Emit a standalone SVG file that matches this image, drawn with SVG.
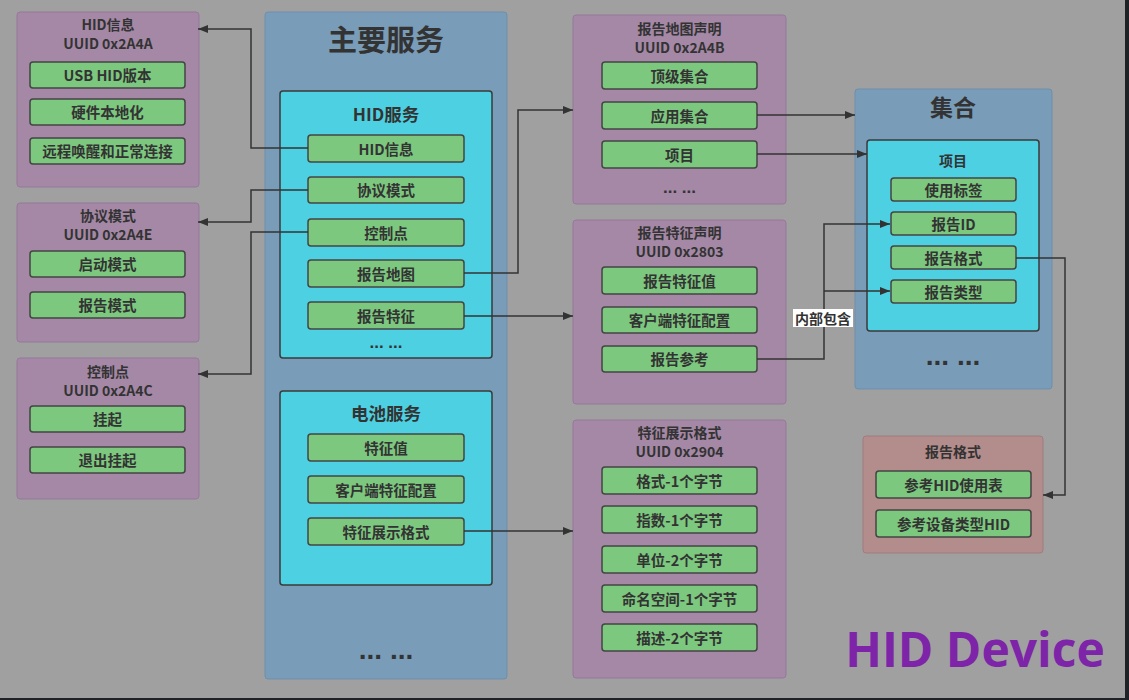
<svg xmlns="http://www.w3.org/2000/svg" width="1129" height="700" viewBox="0 0 1129 700">
<defs>
<marker id="arr" viewBox="0 0 10 8" refX="10" refY="4" markerWidth="10" markerHeight="8" markerUnits="userSpaceOnUse" orient="auto">
<path d="M0,0 L10,4 L0,8 z" fill="#333"/>
</marker>
<style>
text{font-family:"Noto Sans CJK SC","Noto Sans",sans-serif;font-weight:bold;fill:#333;text-anchor:middle;dominant-baseline:central}
.pur{fill:#a488a6;stroke:#95799a;stroke-width:1}
.blu{fill:#799cb8;stroke:#6e8fab;stroke-width:1}
.cy{fill:#4dd0e1;stroke:#3a3a3a;stroke-width:1.5}
.gr{fill:#7dc87f;stroke:#444;stroke-width:1.5}
.pk{fill:#b38c8c;stroke:#a07c7c;stroke-width:1}
.t{font-size:14.5px}
.h{font-size:14px}
.dots{font-family:"Liberation Sans",sans-serif;font-size:17px}
.bdots{font-family:"Liberation Sans",sans-serif;font-size:28px}
.ln{fill:none;stroke:#333;stroke-width:1.5;marker-end:url(#arr)}
</style>
</defs>
<rect x="0" y="0" width="1129" height="700" fill="#1e2226"/>
<rect x="0" y="0" width="1125" height="698" fill="#a0a0a0"/>

<g id="hid-info">
<rect class="pur" x="17" y="12" width="182" height="175" rx="3"/>
<text class="h" x="108" y="24">HID信息</text>
<text class="h" x="108" y="43">UUID 0x2A4A</text>
<rect class="gr" x="30" y="62" width="155" height="26" rx="3"/><text class="t" x="107.5" y="74.5">USB HID版本</text>
<rect class="gr" x="30" y="99" width="155" height="26" rx="3"/><text class="t" x="107.5" y="111.5">硬件本地化</text>
<rect class="gr" x="30" y="138" width="155" height="26" rx="3"/><text class="t" x="107.5" y="150.5">远程唤醒和正常连接</text>
</g>

<g id="protocol-mode">
<rect class="pur" x="17" y="203" width="182" height="139" rx="3"/>
<text class="h" x="108" y="215">协议模式</text>
<text class="h" x="108" y="234">UUID 0x2A4E</text>
<rect class="gr" x="30" y="251" width="155" height="26" rx="3"/><text class="t" x="107.5" y="263.5">启动模式</text>
<rect class="gr" x="30" y="292" width="155" height="26" rx="3"/><text class="t" x="107.5" y="304.5">报告模式</text>
</g>

<g id="control-point">
<rect class="pur" x="17" y="358" width="182" height="141" rx="3"/>
<text class="h" x="108" y="371">控制点</text>
<text class="h" x="108" y="390">UUID 0x2A4C</text>
<rect class="gr" x="30" y="406" width="155" height="26" rx="3"/><text class="t" x="107.5" y="418.5">挂起</text>
<rect class="gr" x="30" y="447" width="155" height="26" rx="3"/><text class="t" x="107.5" y="459.5">退出挂起</text>
</g>

<g id="main-services">
<rect class="blu" x="265" y="12" width="242" height="667" rx="3"/>
<text x="386" y="38" style="font-size:29px">主要服务</text>
<text class="bdots" x="386" y="649">... ...</text>
</g>

<g id="hid-service">
<rect class="cy" x="280" y="91" width="212" height="267" rx="3"/>
<text x="386" y="113" style="font-size:17.5px">HID服务</text>
<rect class="gr" x="308" y="135" width="156" height="27" rx="3"/><text class="t" x="386" y="148">HID信息</text>
<rect class="gr" x="308" y="177" width="156" height="26" rx="3"/><text class="t" x="386" y="189.5">协议模式</text>
<rect class="gr" x="308" y="219" width="156" height="27" rx="3"/><text class="t" x="386" y="232">控制点</text>
<rect class="gr" x="308" y="260" width="156" height="27" rx="3"/><text class="t" x="386" y="273">报告地图</text>
<rect class="gr" x="308" y="302" width="156" height="27" rx="3"/><text class="t" x="386" y="315">报告特征</text>
<text class="dots" x="386" y="342">... ...</text>
</g>

<g id="battery-service">
<rect class="cy" x="280" y="391" width="212" height="194" rx="3"/>
<text x="386" y="412" style="font-size:17.5px">电池服务</text>
<rect class="gr" x="308" y="434" width="156" height="27" rx="3"/><text class="t" x="386" y="447">特征值</text>
<rect class="gr" x="308" y="476" width="156" height="27" rx="3"/><text class="t" x="386" y="489">客户端特征配置</text>
<rect class="gr" x="308" y="518" width="156" height="27" rx="3"/><text class="t" x="386" y="531">特征展示格式</text>
</g>

<g id="report-map-decl">
<rect class="pur" x="573" y="15" width="213" height="189" rx="3"/>
<text class="h" x="679.5" y="28">报告地图声明</text>
<text class="h" x="679.5" y="47">UUID 0x2A4B</text>
<rect class="gr" x="602" y="62" width="155" height="27" rx="3"/><text class="t" x="679.5" y="75">顶级集合</text>
<rect class="gr" x="602" y="102" width="155" height="27" rx="3"/><text class="t" x="679.5" y="115">应用集合</text>
<rect class="gr" x="602" y="141" width="155" height="27" rx="3"/><text class="t" x="679.5" y="154">项目</text>
<text class="dots" x="679.5" y="187">... ...</text>
</g>

<g id="report-char-decl">
<rect class="pur" x="573" y="220" width="213" height="184" rx="3"/>
<text class="h" x="679.5" y="232">报告特征声明</text>
<text class="h" x="679.5" y="251">UUID 0x2803</text>
<rect class="gr" x="602" y="267" width="155" height="27" rx="3"/><text class="t" x="679.5" y="280">报告特征值</text>
<rect class="gr" x="602" y="307" width="155" height="26" rx="3"/><text class="t" x="679.5" y="319.5">客户端特征配置</text>
<rect class="gr" x="602" y="346" width="155" height="26" rx="3"/><text class="t" x="679.5" y="358.5">报告参考</text>
</g>

<g id="char-presentation-format">
<rect class="pur" x="573" y="420" width="213" height="258" rx="3"/>
<text class="h" x="679.5" y="432">特征展示格式</text>
<text class="h" x="679.5" y="451">UUID 0x2904</text>
<rect class="gr" x="602" y="467" width="155" height="27" rx="3"/><text class="t" x="679.5" y="480">格式-1个字节</text>
<rect class="gr" x="602" y="506" width="155" height="27" rx="3"/><text class="t" x="679.5" y="519">指数-1个字节</text>
<rect class="gr" x="602" y="546" width="155" height="27" rx="3"/><text class="t" x="679.5" y="559">单位-2个字节</text>
<rect class="gr" x="602" y="585" width="155" height="27" rx="3"/><text class="t" x="679.5" y="598">命名空间-1个字节</text>
<rect class="gr" x="602" y="624" width="155" height="27" rx="3"/><text class="t" x="679.5" y="637">描述-2个字节</text>
</g>

<g id="collection">
<rect class="blu" x="855" y="89" width="197" height="300" rx="3"/>
<text x="953" y="106" style="font-size:23px">集合</text>
<text class="bdots" x="953" y="355">... ...</text>
</g>

<g id="item">
<rect class="cy" x="867" y="140" width="172" height="191" rx="3"/>
<text x="953" y="160" style="font-size:14px">项目</text>
<rect class="gr" x="891" y="178" width="125" height="23" rx="3"/><text class="t" x="953.5" y="189">使用标签</text>
<rect class="gr" x="891" y="212" width="125" height="23" rx="3"/><text class="t" x="953.5" y="223">报告ID</text>
<rect class="gr" x="891" y="246" width="125" height="23" rx="3"/><text class="t" x="953.5" y="257">报告格式</text>
<rect class="gr" x="891" y="280" width="125" height="23" rx="3"/><text class="t" x="953.5" y="291">报告类型</text>
</g>

<g id="report-format">
<rect class="pk" x="863" y="436" width="180" height="117" rx="3"/>
<text class="h" x="953" y="451">报告格式</text>
<rect class="gr" x="876" y="471" width="155" height="27" rx="3"/><text class="t" x="953.5" y="484">参考HID使用表</text>
<rect class="gr" x="876" y="510" width="155" height="27" rx="3"/><text class="t" x="953.5" y="523">参考设备类型HID</text>
</g>

<g id="connectors">
<path class="ln" d="M308,148 H251 V29 H198"/>
<path class="ln" d="M308,190 H251 V222 H198"/>
<path class="ln" d="M308,232 H251 V374 H198"/>
<path class="ln" d="M464,273 H518 V110 H573"/>
<path class="ln" d="M464,316 H573"/>
<path class="ln" d="M464,531 H573"/>
<path class="ln" d="M757,115 H855"/>
<path class="ln" d="M757,154 H867"/>
<path class="ln" d="M757,359 H824 V224 H890"/>
<path class="ln" d="M824,291 H890"/>
<path class="ln" d="M1016,258 H1065 V495 H1043"/>
<rect x="793" y="309" width="60" height="18" fill="#ffffff"/>
<text x="823" y="317.5" style="font-size:14px">内部包含</text>
</g>

<g id="title">
<text x="975" y="648" style="font-family:'Open Sans','Liberation Sans',sans-serif;font-size:48px;fill:#7e24a8">HID Device</text>
</g>
</svg>
